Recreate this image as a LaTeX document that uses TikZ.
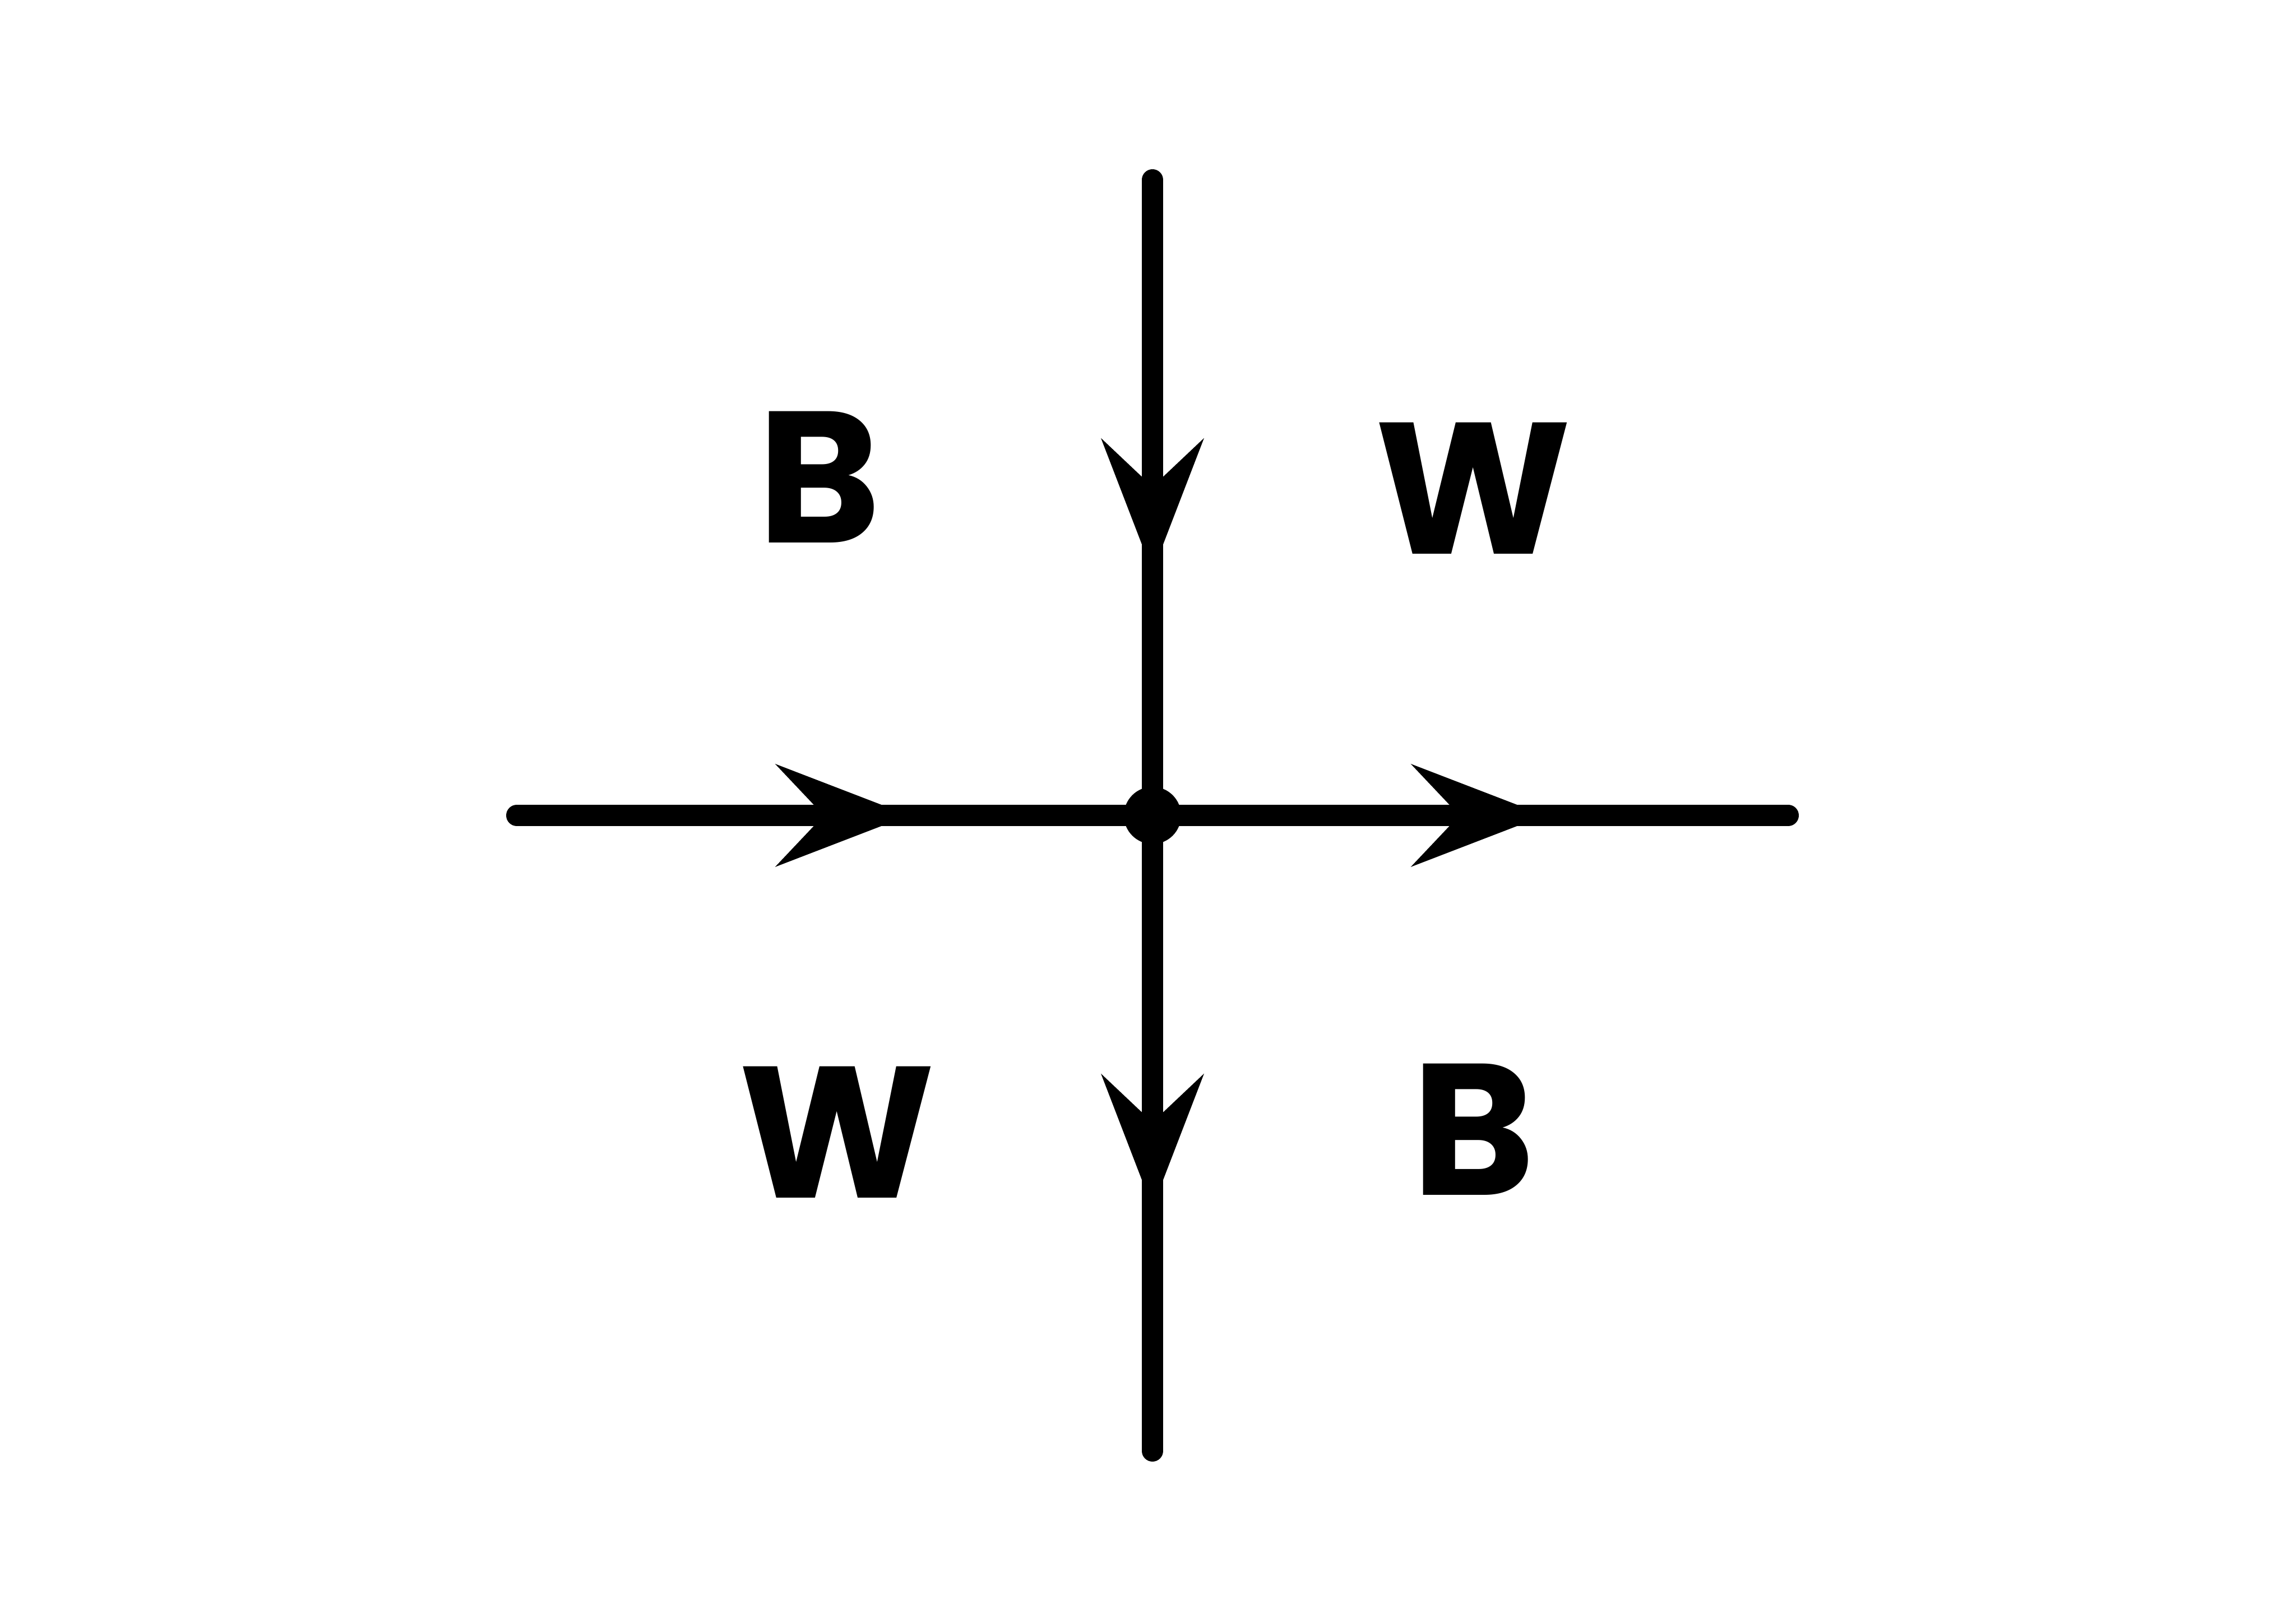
\documentclass[tikz,border=0pt]{standalone}
\usepackage{fontspec}
\setmainfont{Poppins}
\usetikzlibrary{decorations.markings}
\tikzset{
  wire/.style={line width=0.38cm, line cap=round, draw=black,
    postaction={decorate, decoration={markings, mark=at position 0.617 with {
      \fill[black] (0,0) -- (-2.39,0.92) -- (-1.52,0) -- (-2.39,-0.92) -- cycle;}}}},
  lbl/.style={inner sep=0pt, font=\fontsize{95}{95}\selectfont\bfseries},
  junction/.style={circle, fill=black, minimum size=1.02cm, inner sep=0pt}
}
\begin{document}
\begin{tikzpicture}
\useasboundingbox (0,0) rectangle (40.96,28.96);
\coordinate (c) at (20.56,14.41);
\coordinate (l) at (9.22,14.41);
\coordinate (r) at (31.90,14.41);
\coordinate (t) at (20.56,25.75);
\coordinate (b) at (20.56,3.07);
\draw[wire] (l) -- (c);
\draw[wire] (c) -- (r);
\draw[wire] (t) -- (c);
\draw[wire] (c) -- (b);
\node[junction] (dot) at (c) {};
\node[lbl] (b1) at (14.61,20.45) {B};
\node[lbl] (w1) at (26.28,20.25) {W};
\node[lbl] (w2) at (14.93,8.76) {W};
\node[lbl] (b2) at (26.28,8.81) {B};
\end{tikzpicture}
\end{document}
